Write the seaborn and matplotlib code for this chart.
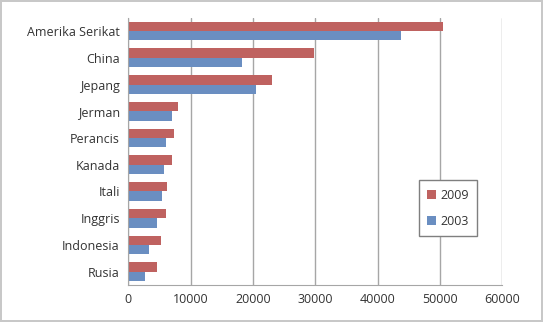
import pandas as pd
import matplotlib
matplotlib.use("Agg")
import matplotlib.pyplot as plt
import seaborn as sns

# Data
countries = ["Amerika Serikat", "China", "Jepang", "Jerman", "Perancis",
             "Kanada", "Itali", "Inggris", "Indonesia", "Rusia"]
values_2009 = [50500, 29800, 23000, 8000, 7300, 7000, 6200, 6000, 5200, 4600]
values_2003 = [43800, 18200, 20500, 7000, 6000, 5800, 5500, 4700, 3300, 2700]
years = ["2009", "2003"]
x_ticks = [0, 10000, 20000, 30000, 40000, 50000, 60000]

df = pd.DataFrame({
    "country": countries * 2,
    "value": values_2009 + values_2003,
    "year": ["2009"] * len(countries) + ["2003"] * len(countries),
})

sns.set_style("white")
plt.rcParams["font.family"] = ["Open Sans", "DejaVu Sans"]

fig = plt.figure(figsize=(5.43, 3.22), dpi=100)
fig.patch.set_edgecolor("#c8c8c8")
fig.patch.set_linewidth(1.5)
ax = fig.add_axes([0.236, 0.115, 0.689, 0.83])

sns.barplot(data=df, y="country", x="value", hue="year", hue_order=years,
            order=countries, orient="h", palette=["#CF5350", "#5B8BD0"],
            width=0.7, edgecolor="none", ax=ax)

ax.set_xlim(0, 60000)
ax.set_xticks(x_ticks)
ax.set_xticklabels([str(t) for t in x_ticks])
ax.xaxis.grid(True, color="#a6a6a6", linewidth=1)
ax.set_axisbelow(True)
ax.set_xlabel("")
ax.set_ylabel("")
for side in ["top", "right"]:
    ax.spines[side].set_visible(False)
for side in ["left", "bottom"]:
    ax.spines[side].set_color("#a6a6a6")
ax.tick_params(axis="both", length=0, labelsize=9, colors="#333333", pad=6)

leg = ax.legend(loc="upper left", bbox_to_anchor=(0.76, 0.415), frameon=True,
                fontsize=9, handlelength=0.7, handleheight=0.7,
                handletextpad=0.3, labelspacing=1.0, borderpad=0.7,
                fancybox=False, framealpha=1)
leg.get_frame().set_edgecolor("#7f7f7f")
for txt in leg.get_texts():
    txt.set_color("#333333")

fig.savefig("out.png", dpi=100)
